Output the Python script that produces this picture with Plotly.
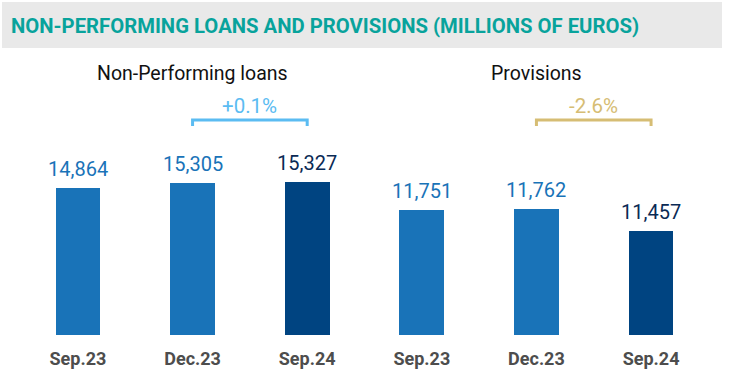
import plotly.graph_objects as go

# ---- data ----
title_text = "NON-PERFORMING LOANS AND PROVISIONS (MILLIONS OF EUROS)"
group_names = ["Non-Performing loans", "Provisions"]
periods = ["Sep.23", "Dec.23", "Sep.24"]
npl_values = [14864, 15305, 15327]
provision_values = [11751, 11762, 11457]

# ---- styles ----
W, H = 729, 383
LIGHT = "#1973b8"
DARK = "#004481"
LIGHT_TXT = "#1973b8"
DARK_TXT = "#0a2a55"
NPL_BRACKET = "#5bbcf2"
PROV_BRACKET = "#d6bd74"
TEAL = "#08a39c"

def pct(a, b):
    v = (b / a - 1) * 100
    return f"{v:+.1f}%"

tick_labels = periods + periods
n = len(periods)
x_npl = list(range(n))
x_prov = list(range(n, 2 * n))
bar_colors = [LIGHT] * (n - 1) + [DARK]
txt_colors = [LIGHT_TXT] * (n - 1) + [DARK_TXT]

bottom_px = 335
dom_bottom = 1 - bottom_px / H

def py(p):  # pixel y -> paper y
    return 1 - p / H

fig = go.Figure()
annotations = []
for xs, vals, ax in [(x_npl, npl_values, "y"), (x_prov, provision_values, "y2")]:
    fig.add_trace(go.Bar(
        x=xs, y=vals, width=0.39, marker=dict(color=bar_colors, line=dict(width=0)),
        yaxis=ax, hoverinfo="skip", showlegend=False))
    for xv, v, c in zip(xs, vals, txt_colors):
        annotations.append(dict(text=f"{v:,}", x=xv, y=v, xref="x", yref=ax,
                                xanchor="center", yanchor="middle", yshift=19, showarrow=False,
                                font=dict(family="Roboto", size=20, color=c)))

shapes = [dict(type="rect", xref="paper", yref="paper", x0=2 / W, x1=722 / W,
               y0=py(48), y1=py(2), fillcolor="#e9e9e9", line=dict(width=0), layer="below")]
annotations.append(dict(text=f"<b>{title_text}</b>", xref="paper", yref="paper", x=9 / W, y=py(25.5),
                        xanchor="left", yanchor="middle", showarrow=False,
                        font=dict(family="Roboto", size=20.3, color=TEAL)))

groups = [(x_npl, npl_values, NPL_BRACKET), (x_prov, provision_values, PROV_BRACKET)]
for name, (xs, vals, col) in zip(group_names, groups):
    annotations.append(dict(text=name, xref="x", yref="paper", x=xs[1], y=py(74),
                            xanchor="center", yanchor="middle", showarrow=False,
                            font=dict(family="Roboto", size=19.5, color="#111111")))
    annotations.append(dict(text=pct(vals[1], vals[2]), xref="x", yref="paper",
                            x=(xs[1] + xs[2]) / 2, y=py(106), xanchor="center", yanchor="middle",
                            showarrow=False, font=dict(family="Roboto", size=20.5, color=col)))
    shapes.append(dict(type="path", xref="x", yref="paper",
                       path=f"M {xs[1]},{py(126)} L {xs[1]},{py(120)} L {xs[2]},{py(120)} L {xs[2]},{py(126)}",
                       line=dict(color=col, width=3)))

fig.update_layout(
    width=W, height=H, margin=dict(l=0, r=0, t=0, b=0),
    paper_bgcolor="white", plot_bgcolor="white",
    bargap=0, shapes=shapes, annotations=annotations,
    xaxis=dict(range=[-0.68, 2 * n - 1 + 0.68], tickvals=x_npl + x_prov, ticktext=tick_labels,
               showgrid=False, zeroline=False, showline=False, ticks="", automargin=False,
               tickfont=dict(family="Roboto", size=18, color="#4d4d4d", weight="bold"),
               ticklabelstandoff=11, fixedrange=True),
    yaxis=dict(domain=[dom_bottom, 1], range=[2630, 30500], visible=False, fixedrange=True),
    yaxis2=dict(domain=[dom_bottom, 1], range=[10000, 14690], visible=False, overlaying="y",
                fixedrange=True),
)

fig.write_html("out.html", config={"displayModeBar": False},
               post_script="document.body.style.margin='0';")
